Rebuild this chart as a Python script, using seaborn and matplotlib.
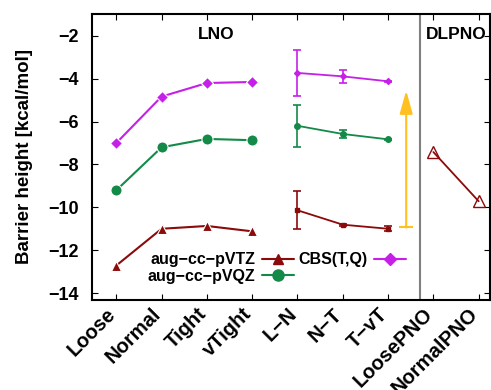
import matplotlib
matplotlib.use("Agg")
import matplotlib.pyplot as plt
import seaborn as sns
import pandas as pd
from matplotlib.lines import Line2D

# ---- data ----
tick_labels = ["Loose", "Normal", "Tight", "vTight", "L\u2212N", "N\u2212T", "T\u2212vT", "LoosePNO", "NormalPNO"]
lno_pos = [0, 1, 2, 3]
ext_pos = [4, 5, 6]
dlpno_pos = [7, 8]

vtz = [-12.70, -10.99, -10.86, -11.11]
vqz = [-9.20, -7.20, -6.81, -6.87]
cbs = [-7.00, -4.84, -4.21, -4.16]

vtz_ext = [-10.13, -10.80, -10.99]
vtz_err = [0.89, 0.04, 0.12]
vqz_ext = [-6.20, -6.58, -6.83]
vqz_err = [0.98, 0.18, 0.03]
cbs_ext = [-3.74, -3.90, -4.13]
cbs_err = [1.05, 0.30, 0.03]

dlpno = [-7.42, -9.71]

arrow_x = 6.4
arrow_from = -10.93
arrow_to = -4.56
divider_x = 6.7

series_names = ["aug\u2212cc\u2212pVTZ", "aug\u2212cc\u2212pVQZ", "CBS(T,Q)"]

# ---- style ----
sns.set_style("ticks")
plt.rcParams["font.family"] = ["Liberation Sans", "DejaVu Sans"]
plt.rcParams["font.weight"] = "bold"
for k in ["text.color", "axes.labelcolor", "xtick.color", "ytick.color", "axes.edgecolor"]:
    plt.rcParams[k] = "black"

c_red = "#8b0a0a"
c_green = "#138a48"
c_mag = "#c61fe8"
c_orange = "#ffc020"

fig = plt.figure(figsize=(4.91, 3.90), dpi=100)
ax = fig.add_axes([0.188, 0.231, 0.809, 0.733])

# LNO main lines
df = pd.DataFrame({
    "x": lno_pos * 3,
    "y": vtz + vqz + cbs,
    "s": [series_names[0]] * 4 + [series_names[1]] * 4 + [series_names[2]] * 4,
})
palette = {series_names[0]: c_red, series_names[1]: c_green, series_names[2]: c_mag}
markers = {series_names[0]: "^", series_names[1]: "o", series_names[2]: "D"}
sns.lineplot(data=df, x="x", y="y", hue="s", style="s", palette=palette,
             markers=markers, dashes=False, markersize=8, linewidth=1.5,
             markeredgewidth=0.8, legend=False, ax=ax)
for ln in ax.lines:
    if ln.get_marker() == "o":
        ln.set_markersize(8)
    elif ln.get_marker() == "D":
        ln.set_markersize(6.5)
    elif ln.get_marker() == "^":
        ln.set_markersize(7.5)

# extrapolated with error bars
for vals, errs, col, mk, ms in [(vtz_ext, vtz_err, c_red, "s", 3),
                                (vqz_ext, vqz_err, c_green, "o", 4),
                                (cbs_ext, cbs_err, c_mag, "D", 3)]:
    ax.errorbar(ext_pos, vals, yerr=errs, color=col, marker=mk, markersize=ms,
                capsize=2.7, capthick=1.2, elinewidth=1.2, linewidth=1.3)

# DLPNO
ax.plot(dlpno_pos, dlpno, color=c_red, marker="^", markersize=8,
        markerfacecolor="none", markeredgewidth=1.0, linewidth=1.3)

# divider
ax.axvline(divider_x, color="#808080", linewidth=1.5)

# arrow
ax.annotate("", xy=(arrow_x, arrow_to), xytext=(arrow_x, arrow_from),
            arrowprops=dict(arrowstyle="-|>,head_length=1.0,head_width=0.28",
                            mutation_scale=14, color=c_orange, lw=1.5,
                            shrinkA=0, shrinkB=0))
ax.plot([arrow_x], [arrow_from], marker="_", markersize=10, markeredgewidth=1.5, color=c_orange)

# labels
ax.text(2.2, -1.95, "LNO", ha="center", va="center", fontsize=12.5, fontweight="bold")
ax.text(7.5, -1.95, "DLPNO", ha="center", va="center", fontsize=12.5, fontweight="bold")

ax.set_xlim(-0.53, 8.24)
ax.set_ylim(-14.3, -1.0)
ax.set_xticks(range(len(tick_labels)))
ax.set_xticklabels(tick_labels, rotation=45, ha="right", va="baseline",
                   rotation_mode="anchor", fontsize=14.5, fontweight="bold")
ax.set_yticks([-14, -12, -10, -8, -6, -4, -2])
ax.set_yticklabels(["\u221214", "\u221212", "\u221210", "\u22128", "\u22126", "\u22124", "\u22122"],
                   fontsize=13, fontweight="bold")
ax.set_xlabel("")
ax.set_ylabel("Barrier height [kcal/mol]", fontsize=13.5, fontweight="bold", labelpad=11)
ax.tick_params(direction="in", top=True, right=True, length=4, width=0.8)
ax.tick_params(axis="x", pad=11)
ax.tick_params(axis="y", pad=10)
for sp in ax.spines.values():
    sp.set_linewidth(1.5)
    sp.set_color("black")

# legend
handles = [
    Line2D([], [], color=c_red, marker="^", markersize=7, linewidth=1.5),
    Line2D([], [], color=c_green, marker="o", markersize=8, linewidth=1.5),
    Line2D([], [], color=c_mag, marker="D", markersize=6, linewidth=1.5),
]
ax.legend(handles, series_names, ncol=2, markerfirst=False, frameon=False,
          loc="center", bbox_to_anchor=(0.465, 0.112),
          handlelength=2.0, handletextpad=0.4, columnspacing=0.3,
          labelspacing=0.1, borderpad=0.2,
          prop={"weight": "bold", "size": 11.5})

fig.savefig("out.png", dpi=100)
